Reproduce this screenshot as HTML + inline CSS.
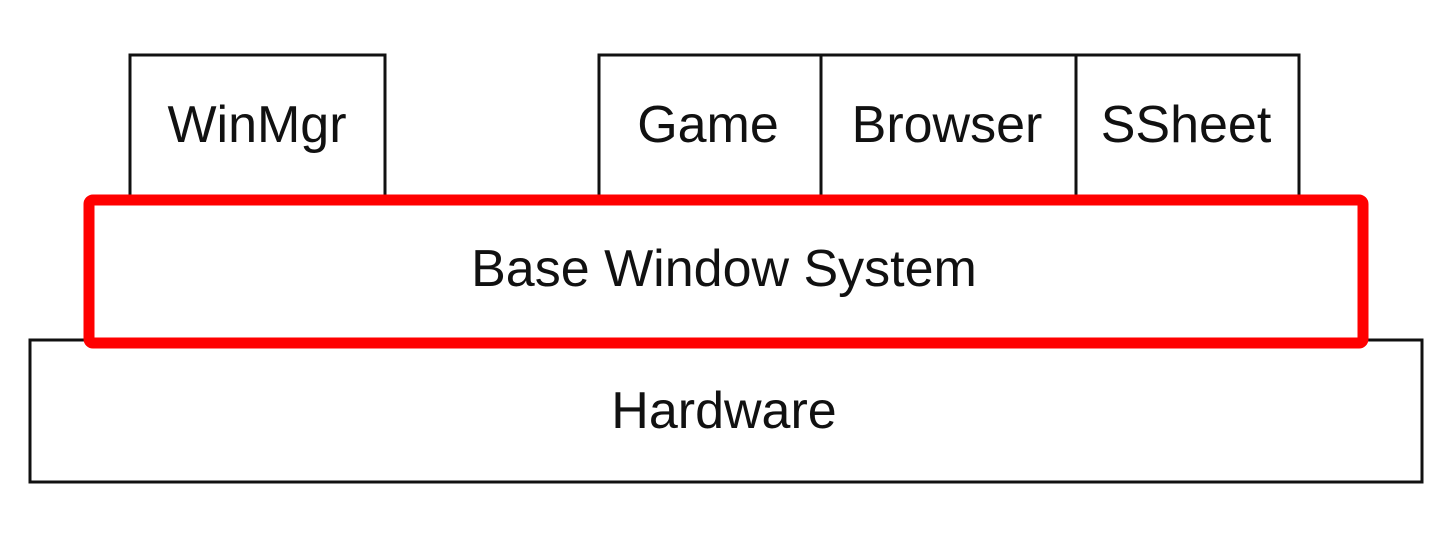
<!DOCTYPE html>
<html><head><style>
html,body{margin:0;padding:0;background:#fff;}
svg{display:block;}
text{font-family:"Liberation Sans",Arial,sans-serif;font-size:52px;fill:#111;text-anchor:middle;}
</style></head><body>
<svg width="1446" height="548" viewBox="0 0 1446 548">
<g fill="#fff" stroke="#111" stroke-width="3">
<rect x="130" y="55" width="255" height="142"/>
<rect x="599" y="55" width="222" height="142"/>
<rect x="821" y="55" width="255" height="142"/>
<rect x="1076" y="55" width="223" height="142"/>
<rect x="30" y="340" width="1392" height="142"/>
</g>
<rect x="89" y="200" width="1274" height="143" rx="4" fill="#fff" stroke="#ff0000" stroke-width="11"/>
<text x="257" y="142">WinMgr</text>
<text x="708" y="142">Game</text>
<text x="947" y="142">Browser</text>
<text x="1186" y="142">SSheet</text>
<text x="724" y="286">Base Window System</text>
<text x="724" y="428">Hardware</text>
</svg>
</body></html>
